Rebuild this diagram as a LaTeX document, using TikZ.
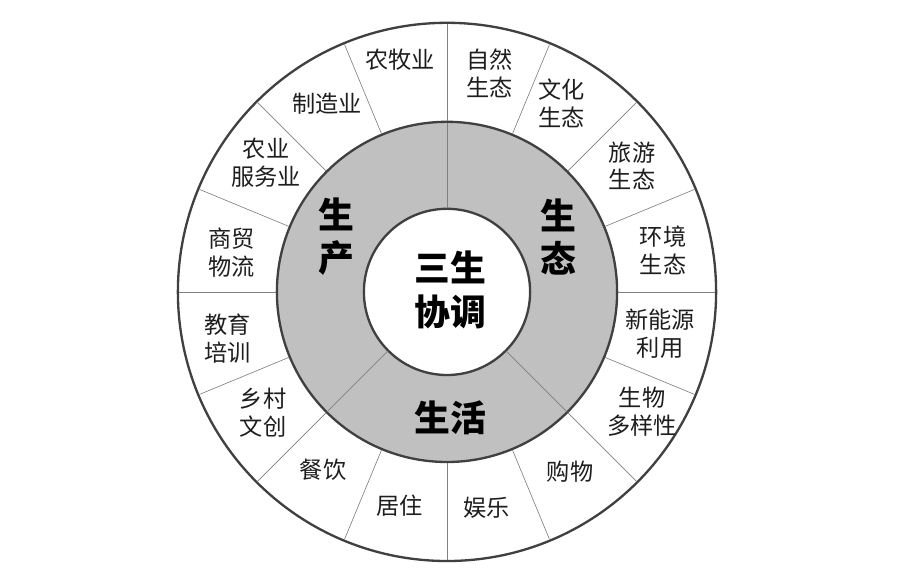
\documentclass[tikz,border=0pt]{standalone}
\usepackage{fontspec}
\newfontfamily\cjk{Noto Sans CJK SC}
\usepackage{tikz}
\usetikzlibrary{positioning}
\definecolor{ringgray}{RGB}{192,192,192}
\definecolor{ringline}{RGB}{64,64,64}
\definecolor{spokeline}{RGB}{128,128,128}
\definecolor{textdark}{RGB}{30,30,30}

\begin{document}
\begin{tikzpicture}[
    ring/.style={draw=ringline, line width=2.2pt, circle, inner sep=0pt},
    spoke/.style={draw=spokeline, line width=0.6pt},
    item/.style={align=center, text=textdark, inner sep=0pt, font=\cjk\fontsize{22}{26.5}\selectfont},
    sector/.style={align=center, inner sep=0pt, font=\cjk\bfseries\fontsize{34}{41}\selectfont},
]
    \useasboundingbox (-14.9,-9.77) rectangle (15.1,9.73);
    \node[ring, fill=white, minimum size=17.94cm] at (0,0) (outer) {};
    \node[ring, fill=ringgray, minimum size=11.34cm] at (0,0) (mid) {};
    \node[ring, fill=white, minimum size=5.54cm] at (0,0) (hub) {};
    % spokes
    \foreach \a in {0,22.5,...,337.5}
        \draw[spoke] (\a:5.7) -- (\a:8.93);
    \foreach \a in {90,225,315}
        \draw[spoke] (\a:2.8) -- (\a:5.64);
    % outer ring
    \node[item] at (-1.57,7.73) (nongmu) {农牧业};
    \node[item] at (1.43,7.3) (ziran) {自然\\生态};
    \node[item] at (3.83,6.27) (wenhua) {文化\\生态};
    \node[item] at (6.17,4.2) (lvyou) {旅游\\生态};
    \node[item] at (7.2,1.37) (huanjing) {环境\\生态};
    \node[item] at (7.1,-1.4) (xinneng) {新能源\\利用};
    \node[item] at (6.5,-4.0) (shengwu) {生物\\多样性};
    \node[item] at (4.1,-6.0) (gouwu) {购物};
    \node[item] at (1.33,-7.2) (yule) {娱乐};
    \node[item] at (-1.57,-7.13) (juzhu) {居住};
    \node[item] at (-4.13,-5.93) (canyin) {餐饮};
    \node[item] at (-6.13,-4.03) (wenchuang) {乡村\\文创};
    \node[item] at (-7.3,-1.57) (jiaoyu) {教育\\培训};
    \node[item] at (-7.17,1.3) (shangmao) {商贸\\物流};
    \node[item] at (-6.03,4.3) (nongye) {农业\\服务业};
    \node[item] at (-4.0,6.27) (zhizao) {制造业};
    % middle ring and hub
    \node[sector] at (-3.67,1.83) (shengchan) {生\\产};
    \node[sector] at (3.7,1.83) (shengtai) {生\\态};
    \node[sector] at (0.1,-4.2) (shenghuo) {生活};
    \node[sector] at (0.1,0.07) (sansheng) {三生\\协调};
\end{tikzpicture}
\end{document}
